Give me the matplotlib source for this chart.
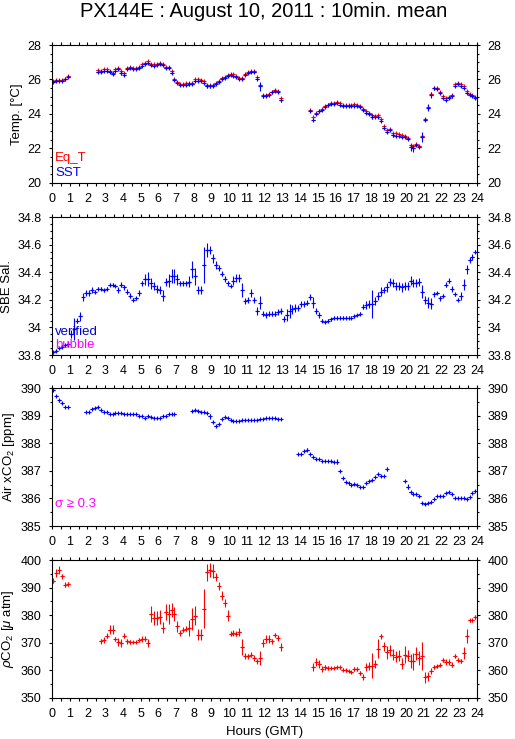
import numpy as np
import matplotlib
matplotlib.use('Agg')
import matplotlib.pyplot as plt
from matplotlib.ticker import MultipleLocator

plt.rcParams['font.family'] = ['Liberation Sans', 'DejaVu Sans']
plt.rcParams['mathtext.fontset'] = 'custom'
plt.rcParams['mathtext.rm'] = 'Liberation Sans'
plt.rcParams['mathtext.it'] = 'Liberation Sans:italic'

nan = np.nan

# 10-minute means, one row per hour (00, 10, 20, 30, 40, 50 min)
eq_t = [
    25.9, 25.95, 25.97, 25.97, 26.05, 26.2,
    nan, nan, nan, nan, nan, nan,
    nan, nan, nan, 26.55, 26.5, 26.58,
    26.58, 26.52, 26.4, 26.58, 26.68, 26.48,
    26.35, 26.65, 26.72, 26.68, 26.68, 26.72,
    26.88, 26.98, 27.05, 26.88, 26.87, 26.9,
    26.96, 26.92, 26.75, 26.74, 26.5, 26.05,
    25.87, 25.75, 25.74, 25.77, 25.8, 25.82,
    26.02, 26.02, 25.98, 25.9, 25.7, 25.68,
    25.68, 25.82, 25.93, 26.07, 26.17, 26.27,
    26.32, 26.3, 26.2, 26.1, 26.08, 26.3,
    26.42, 26.5, 26.5, 26.15, 25.7, 25.12,
    25.1, 25.15, 25.3, 25.38, 25.36, 24.9,
    nan, nan, nan, nan, nan, nan,
    nan, nan, nan, 24.22, 23.82, 24.05,
    24.2, 24.3, 24.47, 24.55, 24.62, 24.66,
    24.67, 24.62, 24.52, 24.5, 24.5, 24.55,
    24.58, 24.55, 24.48, 24.3, 24.15, 24.08,
    23.95, 23.9, 23.92, 23.7, 23.3, 23.1,
    23.12, 22.88, 22.87, 22.85, 22.8, 22.75,
    22.62, 22.2, 22.12, 22.28, 22.15, 22.7,
    23.7, 24.38, 25.15, 25.52, 25.5, 25.28,
    25.02, 24.9, 24.98, 25.1, 25.72, 25.8,
    25.72, 25.6, 25.35, 25.18, 25.1, 24.98,
]

sst = [
    25.85, 25.9, 25.93, 25.92, 26.0, 26.12,
    nan, nan, nan, nan, nan, nan,
    nan, nan, nan, 26.45, 26.42, 26.5,
    26.5, 26.45, 26.32, 26.52, 26.62, 26.38,
    26.28, 26.6, 26.67, 26.63, 26.63, 26.65,
    26.8, 26.92, 26.98, 26.82, 26.8, 26.82,
    26.9, 26.85, 26.67, 26.67, 26.4, 25.96,
    25.8, 25.68, 25.67, 25.7, 25.72, 25.75,
    25.92, 25.93, 25.9, 25.82, 25.62, 25.6,
    25.6, 25.75, 25.86, 26.0, 26.1, 26.2,
    26.25, 26.22, 26.12, 26.02, 26.0, 26.25,
    26.35, 26.44, 26.42, 26.05, 25.6, 25.03,
    25.05, 25.1, 25.25, 25.32, 25.28, 24.8,
    nan, nan, nan, nan, nan, nan,
    nan, nan, nan, 24.15, 23.68, 24.0,
    24.15, 24.25, 24.42, 24.5, 24.57, 24.6,
    24.62, 24.55, 24.47, 24.45, 24.45, 24.45,
    24.47, 24.46, 24.42, 24.22, 24.07, 24.0,
    23.84, 23.8, 23.82, 23.59, 23.2, 22.97,
    23.05, 22.76, 22.75, 22.72, 22.68, 22.65,
    22.55, 22.07, 22.0, 22.2, 22.07, 22.68,
    23.68, 24.36, 25.1, 25.48, 25.44, 25.19,
    24.94, 24.8, 24.9, 25.03, 25.63, 25.73,
    25.63, 25.51, 25.24, 25.09, 25.03, 24.92,
]

sst_sd = [
    .03, .03, .03, .03, .03, .05,
    0, 0, 0, 0, 0, 0,
    0, 0, 0, .05, .05, .04,
    .04, .04, .06, .04, .05, .1,
    .1, .04, .04, .03, .03, .03,
    .03, .03, .05, .05, .04, .04,
    .05, .05, .05, .05, .08, .05,
    .05, .05, .05, .05, .1, .06,
    .05, .05, .05, .05, .1, .07,
    .05, .04, .04, .04, .03, .03,
    .03, .03, .05, .06, .03, .03,
    .03, .03, .05, .1, .25, .1,
    .05, .05, .05, .05, .05, .1,
    0, 0, 0, 0, 0, 0,
    0, 0, 0, .06, .05, .06,
    .05, .04, .03, .03, .03, .03,
    .03, .03, .03, .03, .03, .03,
    .03, .03, .03, .03, .04, .04,
    .15, .05, .05, .07, .05, .07,
    .06, .08, .06, .07, .07, .05,
    .05, .2, .2, .08, .07, .3,
    .1, .2, .2, .1, .05, .05,
    .05, .05, .05, .1, .05, .03,
    .05, .03, .05, .04, .03, .03,
]

sal = [
    33.82, 33.83, 33.85, 33.86, 33.87, 33.88,
    33.95, 33.99, 34.05, 34.08, 34.22, 34.25,
    34.25, 34.27, 34.26, 34.28, 34.28, 34.27,
    34.28, 34.31, 34.31, 34.3, 34.27, 34.31,
    34.29, 34.26, 34.23, 34.2, 34.21, 34.25,
    34.32, 34.35, 34.35, 34.32, 34.3, 34.28,
    34.27, 34.23, 34.33, 34.34, 34.37, 34.37,
    34.35, 34.32, 34.32, 34.32, 34.33, 34.42,
    34.37, 34.27, 34.27, 34.45, 34.56, 34.56,
    34.5, 34.45, 34.43, 34.39, 34.35, 34.32,
    34.3, 34.34, 34.36, 34.36, 34.27, 34.19,
    34.2, 34.25, 34.2, 34.12, 34.18, 34.1,
    34.09, 34.1, 34.1, 34.1, 34.11, 34.12,
    34.06, 34.09, 34.12, 34.13, 34.14, 34.14,
    34.17, 34.17, 34.18, 34.22, 34.18, 34.12,
    34.09, 34.05, 34.04, 34.05, 34.06, 34.07,
    34.07, 34.07, 34.07, 34.07, 34.07, 34.07,
    34.08, 34.09, 34.1, 34.15, 34.16, 34.17,
    34.17, 34.19, 34.23, 34.26, 34.27, 34.29,
    34.33, 34.32, 34.3, 34.3, 34.29, 34.3,
    34.3, 34.34, 34.32, 34.32, 34.33, 34.26,
    34.2, 34.18, 34.17, 34.24, 34.25, 34.21,
    34.23, 34.31, 34.34, 34.28, 34.24, 34.2,
    34.23, 34.31, 34.42, 34.49, 34.51, 34.55,
]

sal_sd = [
    .01, .01, .01, .01, .01, .025,
    .03, .08, .02, .03, .03, .02,
    .02, .02, .01, .01, .01, .01,
    .01, .01, .01, .01, .02, .02,
    .02, .02, .02, .01, .01, .02,
    .02, .04, .05, .04, .03, .03,
    .03, .04, .03, .05, .05, .05,
    .04, .02, .02, .02, .04, .06,
    .06, .03, .03, .13, .05, .03,
    .03, .03, .02, .02, .02, .02,
    .01, .03, .03, .03, .05, .02,
    .02, .03, .02, .03, .05, .02,
    .02, .02, .02, .02, .02, .02,
    .02, .04, .05, .03, .03, .02,
    .02, .02, .02, .02, .04, .02,
    .02, .01, .01, .01, .01, .01,
    .01, .01, .01, .01, .01, .01,
    .01, .01, .01, .02, .03, .03,
    .1, .03, .03, .03, .02, .03,
    .03, .03, .03, .03, .03, .03,
    .03, .03, .03, .03, .03, .05,
    .03, .04, .04, .02, .01, .02,
    .01, .02, .02, .02, .01, .01,
    .03, .04, .03, .02, .02, .01,
]

xco2 = [
    389.92, 389.72, 389.55, 389.46, 389.33, 389.33,
    nan, nan, nan, nan, nan, 389.15,
    389.15, 389.24, 389.27, 389.3, 389.19, 389.15,
    389.15, 389.07, 389.07, 389.08, 389.09, 389.08,
    389.06, 389.06, 389.06, 389.07, 389.06, 389.0,
    388.99, 388.93, 388.97, 388.95, 388.93, 388.93,
    388.93, 388.97, 389.0, 389.06, 389.06, 389.06,
    nan, nan, nan, nan, nan, 389.18,
    389.21, 389.18, 389.13, 389.13, 389.09, 388.97,
    388.77, 388.63, 388.7, 388.89, 388.95, 388.91,
    388.83, 388.79, 388.82, 388.81, 388.85, 388.86,
    388.85, 388.85, 388.85, 388.85, 388.87, 388.89,
    388.91, 388.91, 388.9, 388.9, 388.89, 388.89,
    nan, nan, nan, nan, nan, 387.6,
    387.6, 387.72, 387.76, 387.6, 387.49, 387.43,
    387.42, 387.36, 387.37, 387.37, 387.35, 387.33,
    387.33, 387.0, 386.73, 386.59, 386.55, 386.49,
    386.53, 386.47, 386.43, 386.43, 386.55, 386.63,
    386.67, 386.79, 386.89, 386.82, 386.82, 387.07,
    nan, nan, nan, nan, nan, 386.63,
    386.43, 386.22, 386.15, 386.15, 386.07, 385.85,
    385.8, 385.85, 385.88, 385.98, 386.07, 386.09,
    386.1, 386.2, 386.25, 386.15, 386.03, 386.0,
    386.0, 386.0, 385.98, 386.04, 386.19, 386.27,
]

xco2_sd = [
    .04, .04, .04, .04, .03, .03,
    0, 0, 0, 0, 0, .03,
    .03, .03, .04, .04, .03, .03,
    .03, .03, .02, .02, .03, .02,
    .02, .02, .02, .02, .02, .02,
    .02, .02, .02, .02, .02, .02,
    .02, .02, .02, .03, .03, .03,
    0, 0, 0, 0, 0, .03,
    .04, .03, .02, .02, .03, .1,
    .05, .03, .03, .04, .04, .03,
    .02, .02, .02, .02, .02, .02,
    .02, .02, .02, .02, .02, .02,
    .02, .02, .02, .02, .02, .03,
    0, 0, 0, 0, 0, .03,
    .03, .04, .05, .03, .03, .02,
    .02, .02, .02, .02, .02, .03,
    .1, .04, .04, .03, .02, .02,
    .03, .03, .03, .03, .03, .03,
    .03, .03, .03, .03, .04, .07,
    0, 0, 0, 0, 0, .03,
    .08, .03, .03, .03, .03, .03,
    .03, .02, .02, .02, .02, .02,
    .02, .03, .03, .03, .02, .02,
    .02, .02, .02, .02, .03, .04,
]

pco2 = [
    392.5, 395.3, 396.3, 394.1, 391.1, 391.4,
    nan, nan, nan, nan, nan, nan,
    nan, nan, nan, nan, 370.5, 371.1,
    372.6, 374.8, 374.8, 371.4, 370.2, 369.9,
    372.6, 370.5, 370.3, 370.3, 370.3, 371.1,
    371.4, 371.5, 369.9, 380.4, 379.0, 379.0,
    379.3, 375.4, 381.2, 380.4, 381.8, 380.4,
    376.0, 373.6, 374.8, 375.1, 375.4, 378.6,
    379.8, 373.0, 373.0, 382.4, 395.5, 396.3,
    395.9, 393.8, 390.7, 387.1, 384.4, 379.8,
    373.3, 373.6, 373.3, 373.8, 368.5, 365.3,
    365.1, 365.7, 364.5, 363.3, 364.5, 369.9,
    371.4, 371.4, 370.5, 372.9, 371.7, 368.5,
    nan, nan, nan, nan, nan, nan,
    nan, nan, nan, nan, 361.2, 363.0,
    362.4, 360.5, 361.1, 360.9, 360.9, 360.9,
    361.1, 361.1, 360.3, 360.0, 359.8, 359.4,
    360.6, 360.6, 359.1, 357.6, 361.2, 361.7,
    361.7, 362.4, 367.9, 372.3, 368.7, 366.5,
    367.3, 365.7, 364.9, 365.3, 362.4, 365.7,
    365.3, 363.3, 363.3, 366.1, 364.5, 365.3,
    357.5, 357.8, 359.7, 361.2, 361.5, 362.1,
    363.9, 363.0, 363.0, 362.1, 365.3, 363.9,
    363.3, 366.3, 372.6, 378.1, 378.1, 379.3,
]

pco2_sd = [
    1.0, 1.5, 1.5, 1.0, 1.0, 0.7,
    0, 0, 0, 0, 0, 0,
    0, 0, 0, 0, 0.8, 1.0,
    0.8, 1.5, 1.5, 0.8, 1.5, 1.5,
    1.0, 1.0, 0.6, 0.5, 0.5, 0.8,
    1.0, 1.0, 1.5, 3.0, 2.5, 2.5,
    2.5, 2.0, 3.0, 3.5, 2.5, 2.5,
    2.0, 1.0, 1.0, 1.0, 3.0, 4.0,
    3.5, 2.0, 2.0, 7.0, 3.0, 2.5,
    2.5, 1.5, 1.5, 1.5, 1.5, 2.0,
    1.0, 1.0, 1.0, 1.5, 3.0, 1.0,
    1.0, 1.0, 1.0, 1.0, 2.5, 1.5,
    1.5, 1.5, 1.0, 0.7, 1.0, 1.5,
    0, 0, 0, 0, 0, 0,
    0, 0, 0, 0, 1.5, 1.5,
    1.5, 1.0, 1.0, 0.6, 0.5, 0.5,
    0.5, 0.5, 0.5, 0.5, 0.5, 0.5,
    0.8, 0.8, 0.8, 1.0, 1.5, 1.5,
    4.5, 1.5, 3.5, 1.0, 1.5, 2.5,
    2.0, 2.0, 2.0, 2.0, 2.0, 3.0,
    2.0, 2.5, 3.0, 2.5, 2.5, 5.0,
    2.0, 1.5, 1.0, 0.7, 0.5, 0.5,
    0.7, 1.0, 1.0, 1.0, 0.7, 0.7,
    0.7, 2.0, 2.5, 0.7, 0.7, 0.7,
]

hours = np.arange(len(sst)) / 6 + 1 / 12   # centre of each 10-min bin
half_bin = 1 / 12

RED = '#ff0000'
BLUE = '#0000ff'
MAGENTA = '#ff00ff'
LW = 0.8


def draw_series(ax, vals, sd, color):
    vals = np.array(vals, dtype=float)
    ax.errorbar(hours, vals, xerr=half_bin, yerr=sd, fmt='none',
                ecolor=color, elinewidth=LW, capsize=0)
    ax.plot(hours, vals, '+', color=color, ms=3.2, mew=LW)


def style_axis(ax, ylim, major, minor):
    ax.set_xlim(0, 24)
    ax.set_ylim(*ylim)
    ax.xaxis.set_major_locator(MultipleLocator(1))
    ax.xaxis.set_minor_locator(MultipleLocator(0.5))
    ax.yaxis.set_major_locator(MultipleLocator(major))
    ax.yaxis.set_minor_locator(MultipleLocator(minor))
    ax.yaxis.set_major_formatter(lambda v, pos: f'{v:g}')
    ax.tick_params(which='both', direction='out', top=True, right=True,
                   labelright=True, labelsize=9, width=0.8)
    ax.tick_params(axis='x', which='both', length=2.5, pad=5)
    ax.tick_params(axis='y', which='major', length=2.5, pad=5)
    ax.tick_params(axis='y', which='minor', length=1.6)
    for s in ax.spines.values():
        s.set_linewidth(0.8)


fig = plt.figure(figsize=(5.15, 7.39), dpi=100)
left, width, height = 0.101, 0.825, 0.1867
bottoms = [0.7524, 0.5196, 0.2882, 0.0555]
axs = [fig.add_axes([left, b, width, height]) for b in bottoms]

# Temperature
ax = axs[0]
ax.errorbar(hours, np.array(eq_t, dtype=float), xerr=half_bin, fmt='none',
            ecolor=RED, elinewidth=LW, capsize=0)
ax.plot(hours, eq_t, '+', color=RED, ms=3.2, mew=LW)
draw_series(ax, sst, sst_sd, BLUE)
style_axis(ax, (20, 28), 2, 0.5)
ax.set_ylabel('Temp. [°C]', fontsize=9.5, labelpad=3)
ax.text(0.007, 0.181, 'Eq_T', color=RED, fontsize=9.5, transform=ax.transAxes, va='center')
ax.text(0.007, 0.072, 'SST', color=BLUE, fontsize=9.5, transform=ax.transAxes, va='center')

# Salinity
ax = axs[1]
draw_series(ax, sal, sal_sd, BLUE)
style_axis(ax, (33.8, 34.8), 0.2, 0.05)
ax.set_ylabel('SBE Sal.', fontsize=9.5, labelpad=3)
ax.text(0.007, 0.167, 'verified', color='#0000cc', fontsize=9.5, transform=ax.transAxes, va='center')
ax.text(0.007, 0.072, 'bubble', color=MAGENTA, fontsize=9.5, transform=ax.transAxes, va='center')

# Atmospheric xCO2
ax = axs[2]
draw_series(ax, xco2, xco2_sd, BLUE)
style_axis(ax, (385, 390), 1, 0.5)
ax.set_ylabel('Air xCO$_2$ [ppm]', fontsize=9.5, labelpad=3)
ax.text(0.007, 0.159, 'σ ≥ 0.3', color=MAGENTA, fontsize=9.5, transform=ax.transAxes, va='center')

# Seawater pCO2
ax = axs[3]
draw_series(ax, pco2, pco2_sd, RED)
style_axis(ax, (350, 400), 10, 5)
ax.set_ylabel('$\\rho$CO$_2$ [$\\mu$ atm]', fontsize=9.5, labelpad=3)
ax.set_xlabel('Hours (GMT)', fontsize=9.5, labelpad=4)

fig.text(0.512, 0.984, 'PX144E : August 10, 2011 : 10min. mean',
         ha='center', va='center', fontsize=14.5)

fig.savefig('out.png', dpi=100)
